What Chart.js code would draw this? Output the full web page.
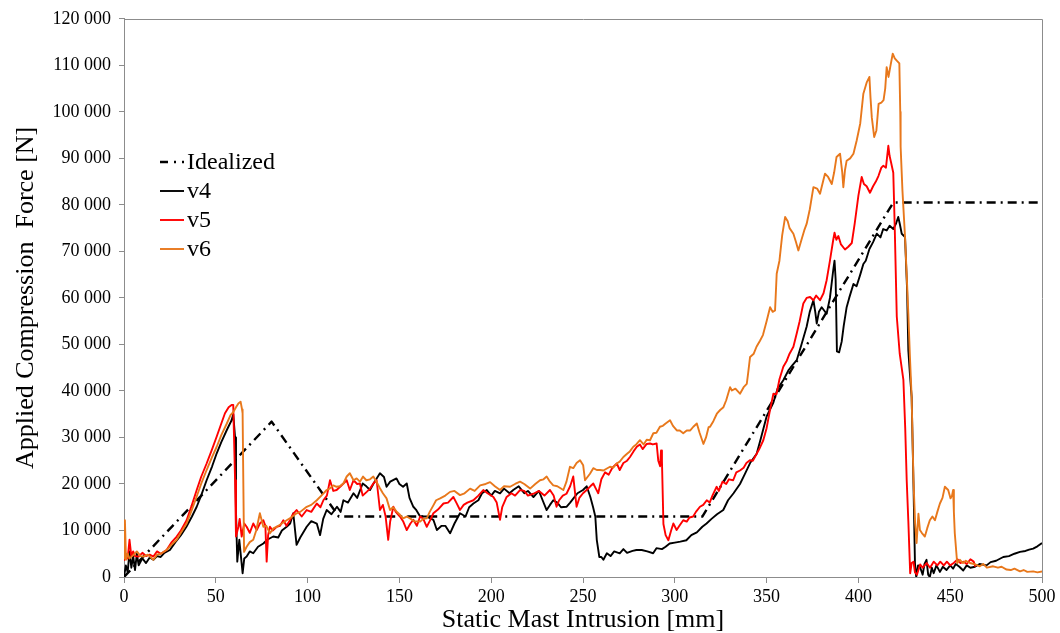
<!DOCTYPE html>
<html><head><meta charset="utf-8">
<script src="https://cdn.jsdelivr.net/npm/chart.js@4.4.0/dist/chart.umd.min.js"></script>
<style>html,body{margin:0;padding:0;background:#fff}</style>
</head><body>
<canvas id="c" width="1060" height="633" style="display:block;width:1060px;height:633px"></canvas>
<script>
// ---------- DATA ----------
const seriesNames = ['Idealized', 'v4', 'v5', 'v6'];
const xTickStep = 50;
const yTickStep = 10000;

const idealX = [0, 80.4, 117, 315, 419, 500];
const idealY = [0, 33400, 13000, 13000, 80500, 80500];

const v4X = [0,1,2,3,4,5,6,7,8,10,12,14,16,18,20,22,25,28,31,34,37,39.6,42,45,48,50.5,53,56,58.6,59.5,60.5,61,61.7,62.8,63.8,64.6,65.5,66.8,68.5,70.4,73,75.9,78,81.3,84,86,88.6,90.5,92.2,94,96,99.5,102,105,106.8,108.5,110.4,113,116,118,119.5,122,125,127,130,132,134,136.5,139.4,141.6,143,145,148.4,150,152,154,155.5,157.6,159,161.3,165,168.5,170.4,173,175,177.6,180,183,186,188,190.3,193,195,197.6,200,202,204.8,207,210,212,215,218,220,223,226,228,230.2,232,233.8,236,238,241,243,245,247,250,252,254,255.5,256.7,257.5,258.9,260,261.1,263,265,267,270,272,274,277,279.1,282,285,288.2,290,293,295,297.2,300,303,306.3,309,312,315,317.3,320,323,326.4,329,332,335.5,338,341,344.6,347,350,353.7,356,359.1,362,364,366.4,369,371.8,373.5,375.5,376.5,377.3,378.5,380,382.7,384.5,386.3,387,387.6,388.3,389.5,390.9,392,393.6,395,397.3,399,401,402.7,404,406,408,410,412,413.5,415.4,417,419,420.5,421.7,422.5,423.6,425.4,426.5,427.2,428,429,430,430.8,431.5,432.5,433.5,435,436,437.1,438,438.9,440,441,442.5,444.4,446,448,450,451.6,453,455,457.1,459,461,463.5,466,469.8,472,475,478.9,482,485,488,491,493,495.2,497.5,500];
const v4Y = [0,2500,1000,5500,2000,4500,1500,5000,2500,4000,3000,4200,3700,4500,4300,5200,5800,7500,9000,10800,13000,15100,17500,20800,23800,26600,29000,31600,33700,35000,30000,14000,3300,8000,4000,800,4000,4400,5500,5100,6500,7200,8000,8700,8500,10000,10800,11500,13700,6900,8500,10800,12000,11500,9000,12500,14400,13500,15100,14000,16500,16000,18000,17000,20100,19500,18700,20500,22300,21500,19400,20500,21200,20000,19400,20100,17000,15100,14500,13000,13000,12300,10100,11000,11000,9400,11500,13700,13000,15000,15800,16500,18000,18700,17500,18500,18000,19000,18000,18700,19500,18000,18500,17200,18500,16500,14400,15500,16500,16000,15000,15100,16000,17000,18000,18700,19500,17200,15000,13000,8000,4300,4300,3700,5100,4500,5500,5100,6000,5200,5600,5800,5800,5500,5100,6200,6000,6500,7200,7400,7600,7900,9000,9600,10800,11500,12500,13500,14400,16500,18000,20000,22000,24500,26500,30000,34500,37500,40500,42300,44500,45500,46600,50000,53800,57000,59500,57000,54500,57000,58000,56600,60000,66000,68000,64000,48500,48300,50600,54000,58000,60000,63000,62500,65000,67300,68000,70500,72000,73800,73000,74800,74500,75500,74800,76000,77400,76000,73800,73100,62000,48700,44000,38700,20000,3000,0,2500,2200,500,2800,3700,500,0,2000,800,2500,1100,2200,1500,2500,1800,2800,2200,1400,2500,2000,2200,2800,2500,3200,3500,4300,4500,5000,5400,5600,5900,6100,6600,7300];

const v5X = [0,1,2,3,4,5,6,8,10,12,14,16,18,20,23.2,26,28.7,31,34.1,37,39.6,42,45,48,50.5,53,55,57,58.6,59.5,60.5,61,62.3,63,64.1,65.5,66.8,68.5,70.4,72.3,74,75.9,77,77.7,78.5,79.5,81,83.2,85,86.8,88.5,90.4,92,94,96.8,99.5,102,105,107,108.6,110.5,112.2,114,115.8,118,121.3,123,125,127,128.5,130,132.2,134,135.8,137.6,139.4,141,142.5,143.9,145,146.7,148,150.3,152,154,156,157.6,159.5,161.3,163,164.9,166.5,168.5,171,174,176.5,179.4,181,183,185,187,190.3,193,195.7,198,201.2,203,204.8,206,208.4,211,213,215.7,218,220,223,226,229,232,234,235.6,237,239,241,243,244.7,246.5,248,250,252,254,255.6,257,258.3,260,262,264,266,268.4,270,272,274,275.6,277.5,279.3,281,282.5,284.7,286.5,288,290.1,291,292,292.5,293,293.8,295,296.5,298,299.2,301,302.5,304.6,306.5,308,310,311.5,313.7,315.5,317.4,319,320.5,322.8,324,326,328,329.5,331.8,333.5,335.5,337.5,339,340.9,342.5,344.6,346,348.2,350,351.8,353.7,355.4,357,359.1,361,362.5,364.6,366.5,368,370,371.8,373.7,375.5,377,379.1,381,382.7,384.5,386.3,387,388,389.1,390.5,392.7,394.5,396.4,398,400,401.8,403,404.5,406.3,408,409.5,410.9,412.5,413.6,415,416.3,417,417.8,419,419.8,420.9,422.5,424.5,425.5,426.3,427.2,428.2,429,430,430.8,431.9,433.6,435,437.2,439,441,443,444.6,446.5,448.2,450,451.9,454,455.5,457.3,459,461,462.8,463.7];
const v5Y = [3500,5000,4000,8000,4500,5500,4500,4400,5200,4500,4800,4400,5500,5000,5800,7500,8700,10000,12200,15500,18700,21500,24400,27500,30200,33000,35200,36500,37000,37000,20800,8700,10800,12500,8700,11500,10800,9500,11500,10100,11500,12200,11000,3300,9000,10800,10000,10800,11000,12200,11000,12200,13500,14400,13000,14400,14000,15800,15000,16500,17500,20800,18500,18700,19500,20800,18700,20800,20000,20100,17500,18300,19000,20100,20800,14400,15500,13000,8000,12000,15100,14000,13000,12000,10100,11500,12300,11000,13000,12500,10800,12000,13700,14500,15800,16000,17200,16000,14400,15500,16000,16500,17500,18700,18000,17200,16000,12300,15000,17200,18000,17500,18700,18500,17500,17900,18500,17500,18700,17500,15100,16500,17500,17900,19500,21600,15100,17000,18000,18700,19500,20100,19000,18000,21000,22500,22000,23500,24400,23000,24500,25000,25800,27000,28000,28500,27500,28600,28700,28500,28700,25000,23800,27200,25000,11400,9000,7900,10000,11500,10100,11000,12200,11900,12800,13000,14000,15100,15500,16500,16000,17500,19400,18500,20500,20000,21000,20800,22500,22900,23500,24500,25100,25000,26500,27500,29400,32000,35800,39400,39300,42500,45200,46500,48000,49500,52500,55000,58800,60000,60200,59500,60500,59500,61000,63800,68000,72500,74000,72500,73300,71500,70400,71000,71800,76000,82000,86000,84500,84000,82600,84000,85000,86200,88000,88400,88000,92700,90500,89100,86900,75000,56000,48000,42400,32000,20900,12000,800,3000,3300,1000,500,2700,2000,3000,2000,3300,2500,3300,2500,3300,2500,3000,3800,3000,3300,2800,3800,3300,2200];

const v6X = [0,0.5,1.1,2,3,5.1,7,9,10.5,13,16,18,20,23.2,26,28.7,31,34.1,37,39.6,42,45,48,50.5,53,56,58,59.6,61,62.3,63.5,64.3,64.6,65,65.4,66.8,68.5,70.4,72,74,75.9,77.5,79.5,81.5,83.2,86,88.6,91,94,96,99.5,102,105,107.5,110.4,112,114,115.8,117.5,119.5,121.3,123,125,126.7,128.5,130.2,132,134,135.8,137.5,139.4,141,143,144.9,146.5,148.4,150,152,154,155.8,158,161.3,163,164.9,166.5,168.5,170,172.2,175,177.6,180,183,185.5,188.5,191,194,197,199.4,202,204.8,207,210.3,213,215.7,218,221.2,224,226.6,228.5,230.2,232,233.8,236,239.3,241,242.9,244.7,246.5,248.4,250.1,251.1,253.8,255.6,257.5,259.3,261.1,264.7,266.5,268.4,270,272,274,275.5,277.4,279,281,283,284.7,286.5,288.3,290,291.9,293.5,295,297.4,299,301.1,302.7,304.6,306.5,308.4,310.1,312,313.5,315.6,317,318.4,319.2,321,322.9,324.7,326.5,328,330.1,331.1,333,335.5,337.5,339.2,340,341,343,344.5,346.4,348,350,351.9,353.3,354.6,355.5,357,358.5,360.1,361.5,362.5,364.6,366,367.3,369,370.5,371.8,373.5,375.5,377.5,379.1,380.9,381.8,383.5,385.5,386.8,388.1,390,391.2,391.8,392.7,393.6,395.5,397.3,399.1,401,402.7,404.6,406,406.6,407.3,408.6,409.8,411,412.5,413.7,414.6,415.4,416.4,417.5,418.7,419.8,420.9,422.3,422.8,423,424,425.4,426.3,427.2,428,429,430,430.9,431.7,432.7,433.5,434.5,436.2,437.5,438.9,440.3,441.7,443,444.4,445.8,447.1,448.9,450.2,451,451.6,452,452.5,453.8,455.3,457,458.5,460.7,463,466.1,468,470,473.4,476,478,480.7,483,485,488,490,492,495.2,497.5,500];
const v6Y = [4000,12200,3700,5000,4000,4700,5500,4500,4400,4800,3700,4800,5000,5800,7000,8000,9500,11500,14500,17300,20000,23000,25800,28000,30500,33000,34800,35500,36500,37300,37700,36000,35200,20000,5400,6500,7500,8000,10000,13700,10800,11000,9400,10500,10800,11500,12200,12800,13700,14000,15100,15500,16500,17500,18700,19000,19700,19400,19500,20100,21600,22300,20800,21200,20500,21600,20800,21000,21600,20500,19100,18000,16900,14400,15000,14100,13500,12600,13000,12600,12000,11900,12500,12600,14000,15400,16500,16900,17500,18300,18500,17600,18000,19000,18500,19700,20000,20400,19500,18700,19500,19400,20000,20500,20000,19000,20000,20800,21000,21600,20500,19700,19500,18700,20500,23700,23400,24500,25100,24000,20800,22200,23400,23000,23000,22900,23700,23500,24400,24800,25800,26500,27000,28000,28500,29400,28500,29500,29400,30900,31000,32300,32500,33000,33700,32500,31500,31500,30900,31500,31500,32300,33000,31000,28600,30000,32200,32300,33500,35100,35900,36500,38000,40800,40100,40500,39400,40800,41500,44000,47300,48000,49500,50800,52000,55000,58000,57000,57300,65200,68000,73500,77400,76500,75000,73800,72000,70200,72500,74500,75900,79000,83800,83500,82400,85300,86700,86000,84500,87000,90300,91000,87000,83800,87500,89500,90000,91000,93900,97500,103900,106400,107500,103000,98800,94600,96000,101700,102000,102500,105000,109600,107500,110000,112500,111500,111000,110400,100000,92500,83000,73100,65000,56600,48000,38700,20800,11500,7300,13600,10100,9500,8700,10500,12200,13000,12200,14000,15800,17000,19400,18700,16900,17500,18700,14000,9400,3000,3700,3000,3500,3000,2800,2300,2800,2000,2300,2000,2200,1600,1500,1800,1200,1500,1100,1200,1000,1200];

// ---------- CHART ----------
const SERIF = '"Liberation Serif", "DejaVu Serif", serif';
const GRAY = '#8c8c8c';
function pts(xs, ys) { return xs.map((x, i) => ({ x: x, y: ys[i] })); }
function fmt(v) { return String(v).replace(/\B(?=(\d{3})+(?!\d))/g, ' '); }

const styles = [
  { color: '#000000', width: 2.4, dash: [9, 5, 2, 5], order: 3 },
  { color: '#000000', width: 1.9, dash: [], order: 2 },
  { color: '#ff0000', width: 1.9, dash: [], order: 1 },
  { color: '#e8781c', width: 1.9, dash: [], order: 0 }
];
const allX = [idealX, v4X, v5X, v6X];
const allY = [idealY, v4Y, v5Y, v6Y];

const datasets = seriesNames.map((name, i) => ({
  label: name,
  data: pts(allX[i], allY[i]),
  borderColor: styles[i].color,
  backgroundColor: styles[i].color,
  borderWidth: styles[i].width,
  borderDash: styles[i].dash,
  order: styles[i].order,
  showLine: true,
  pointRadius: 0,
  tension: 0,
  borderJoinStyle: 'round',
  fill: false
}));

const framePlugin = {
  id: 'frame',
  beforeDatasetsDraw(chart) {
    const a = chart.chartArea, ctx = chart.ctx;
    ctx.save();
    ctx.strokeStyle = GRAY; ctx.lineWidth = 1;
    ctx.beginPath();
    ctx.moveTo(Math.round(a.left) + 0.5, Math.round(a.top) + 0.5);
    ctx.lineTo(Math.round(a.right) + 0.5, Math.round(a.top) + 0.5);
    ctx.lineTo(Math.round(a.right) + 0.5, Math.round(a.bottom) + 0.5);
    ctx.stroke();
    ctx.restore();
  }
};

const legendPlugin = {
  id: 'innerLegend',
  afterDraw(chart) {
    const ctx = chart.ctx;
    const x0 = 160, x1 = 184, tx = 187, y0 = 162, dy = 29;
    ctx.save();
    ctx.font = '24px ' + SERIF;
    ctx.textBaseline = 'middle';
    ctx.fillStyle = '#000';
    seriesNames.forEach((name, i) => {
      const y = y0 + i * dy;
      ctx.strokeStyle = styles[i].color;
      ctx.lineWidth = styles[i].width;
      ctx.setLineDash(styles[i].dash.length ? [8, 6, 2, 6] : []);
      ctx.beginPath(); ctx.moveTo(x0, y); ctx.lineTo(x1, y); ctx.stroke();
      ctx.setLineDash([]);
      ctx.fillText(name, tx, y + 1);
    });
    ctx.restore();
  }
};

new Chart(document.getElementById('c'), {
  type: 'scatter',
  data: { datasets: datasets },
  options: {
    responsive: false,
    animation: false,
    devicePixelRatio: 1,
    layout: { padding: { left: 0, right: 18, top: 18, bottom: 0 } },
    plugins: { legend: { display: false }, tooltip: { enabled: false } },
    scales: {
      x: {
        type: 'linear', min: 0, max: 500,
        afterFit(s) { s.height = 56; },
        ticks: { stepSize: xTickStep, color: '#000', font: { family: SERIF, size: 18 }, padding: 3, maxRotation: 0 },
        grid: { display: true, drawOnChartArea: false, drawTicks: true, tickLength: 6, color: GRAY },
        border: { display: true, color: GRAY },
        title: { display: true, text: 'Static Mast Intrusion [mm]', color: '#000', font: { family: SERIF, size: 26 }, padding: { top: 0, bottom: -3 } }
      },
      y: {
        type: 'linear', min: 0, max: 120000,
        afterFit(s) { s.width = 124; },
        ticks: { stepSize: yTickStep, color: '#000', font: { family: SERIF, size: 18 }, padding: 8, callback: v => fmt(v) },
        grid: { display: true, drawOnChartArea: false, drawTicks: true, tickLength: 5, color: GRAY },
        border: { display: true, color: GRAY },
        title: { display: true, text: 'Applied Compression  Force [N]', color: '#000', font: { family: SERIF, size: 26 }, padding: { top: 11, bottom: 0 } }
      }
    }
  },
  plugins: [framePlugin, legendPlugin]
});
</script>
</body></html>
